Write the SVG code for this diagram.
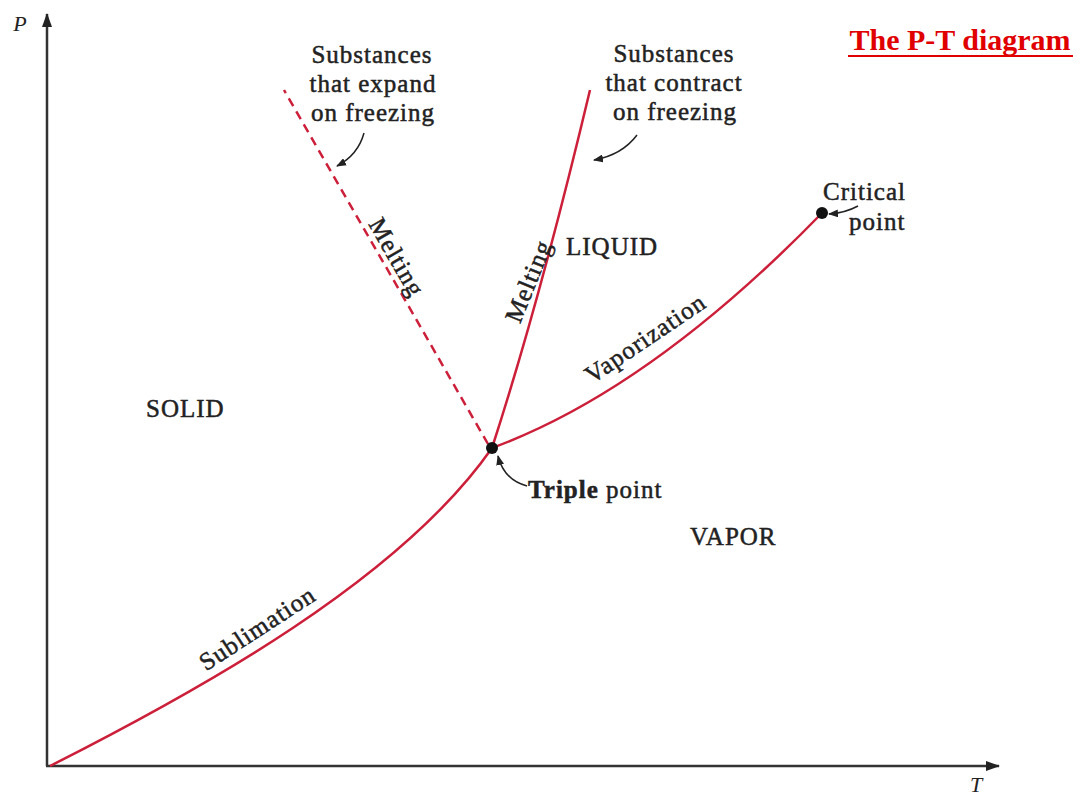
<svg xmlns="http://www.w3.org/2000/svg" width="1081" height="795" viewBox="0 0 1081 795">
<style>
.lbl{font-family:"Liberation Serif",serif;font-size:25px;fill:#222;stroke:#222;stroke-width:0.5px;letter-spacing:1px}
.ax{stroke:#333;stroke-width:2.5;fill:none}
.curve{stroke:#cc1f3a;stroke-width:2.5;fill:none}
.dash{stroke:#cc1f3a;stroke-width:2.5;fill:none;stroke-dasharray:9,6}
.ptr{stroke:#222;stroke-width:1.5;fill:none}
.dot{fill:#111}
</style>
<defs>
<marker id="ah" markerWidth="10" markerHeight="8" refX="9" refY="4" orient="auto" markerUnits="userSpaceOnUse">
<path d="M0,0 L10,4 L0,8 Z" fill="#222"/>
</marker>
<marker id="axh" markerWidth="14" markerHeight="10" refX="13" refY="5" orient="auto" markerUnits="userSpaceOnUse">
<path d="M0,0 L14,5 L0,10 Z" fill="#222"/>
</marker>
</defs>
<rect width="1081" height="795" fill="#fff"/>
<g id="axes">
<line class="ax" x1="47" y1="766" x2="47" y2="14" marker-end="url(#axh)"/>
<line class="ax" x1="46" y1="766" x2="999" y2="766" marker-end="url(#axh)"/>
<text x="20" y="31" font-family="Liberation Serif,serif" font-style="italic" font-size="22" fill="#222" text-anchor="middle">P</text>
<text x="976" y="792" font-family="Liberation Serif,serif" font-style="italic" font-size="22" fill="#222" text-anchor="middle">T</text>
</g>
<g id="title">
<text x="960" y="50" font-family="Liberation Serif,serif" font-weight="bold" font-size="30" fill="#e00000" text-anchor="middle">The P-T diagram</text>
<line x1="848" y1="56" x2="1073" y2="56" stroke="#e00000" stroke-width="2"/>
</g>
<g id="connectors">
<path id="sublimation" class="curve" d="M50,766 C200,690 400,580 492,448"/>
<path id="vaporization" class="curve" d="M492,448 Q650,390 822,213"/>
<path id="melting-solid" class="curve" d="M492,448 Q540,300 590,90"/>
<path id="melting-dashed" class="dash" d="M488,444 L284,90"/>
<path class="ptr" d="M364,133 Q358,155 337,166" marker-end="url(#ah)"/>
<path class="ptr" d="M637,135 Q622,155 594,160" marker-end="url(#ah)"/>
<path class="ptr" d="M858,206 Q845,213 829,214" marker-end="url(#ah)"/>
<path class="ptr" d="M527,486 Q504,480 498,456" marker-end="url(#ah)"/>
</g>
<g id="triple-point">
<circle class="dot" cx="492" cy="448" r="6"/>
<text class="lbl" x="528" y="498"><tspan font-weight="bold">Triple</tspan> point</text>
</g>
<g id="critical-point">
<circle class="dot" cx="822" cy="213" r="6"/>
<text class="lbl" x="823" y="200">Critical</text>
<text class="lbl" x="849" y="230">point</text>
</g>
<g id="expand-note">
<text class="lbl" x="372" y="63" text-anchor="middle">Substances</text>
<text class="lbl" x="373" y="92" text-anchor="middle">that expand</text>
<text class="lbl" x="373" y="121" text-anchor="middle">on freezing</text>
</g>
<g id="contract-note">
<text class="lbl" x="674" y="62" text-anchor="middle">Substances</text>
<text class="lbl" x="674" y="91" text-anchor="middle">that contract</text>
<text class="lbl" x="675" y="120" text-anchor="middle">on freezing</text>
</g>
<g id="regions">
<text class="lbl" x="146" y="417">SOLID</text>
<text class="lbl" x="566" y="255">LIQUID</text>
<text class="lbl" x="690" y="545">VAPOR</text>
</g>
<g id="curve-labels">
<text class="lbl" text-anchor="middle" dy="0.35em" transform="translate(397,257) rotate(60)">Melting</text>
<text class="lbl" text-anchor="middle" dy="0.35em" transform="translate(528,281) rotate(-68)">Melting</text>
<text class="lbl" text-anchor="middle" dy="0.35em" transform="translate(645,338) rotate(-34)">Vaporization</text>
<text class="lbl" text-anchor="middle" dy="0.35em" transform="translate(257,628) rotate(-33)">Sublimation</text>
</g>
</svg>
